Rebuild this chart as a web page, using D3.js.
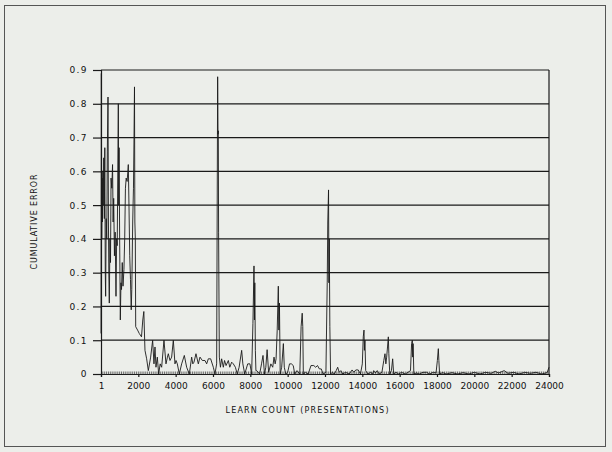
<!DOCTYPE html>
<html>
<head>
<meta charset="utf-8">
<script src="https://cdn.jsdelivr.net/npm/d3@7"></script>
<style>
  html, body { margin: 0; padding: 0; background: #eceeea; }
  svg { display: block; }
  text { font-family: "DejaVu Sans", sans-serif; fill: #111; }
</style>
</head>
<body>
<svg id="chart" width="612" height="452"></svg>
<script>
// ---- data ----
const learnCount = [
  1, 20, 40, 60, 80, 100, 120, 150, 180, 205, 230, 250, 280, 310, 340, 376, 400, 420, 446, 480,
  510, 540, 580, 620, 650, 680, 720, 760, 804, 840, 870, 900, 929, 950, 970, 1000, 1036, 1070, 1100, 1140,
  1180, 1230, 1270, 1310, 1350, 1400, 1440, 1464, 1500, 1540, 1580, 1620, 1650, 1700, 1740, 1770, 1795, 1815, 1840, 1860,
  1960, 2050, 2170, 2240, 2296, 2340, 2357, 2446, 2536, 2661, 2768, 2839, 2893, 2946, 3018, 3090, 3170, 3250, 3375, 3482,
  3560, 3607, 3696, 3786, 3875, 3964, 4020, 4089, 4196, 4321, 4464, 4589, 4732, 4857, 4920, 4982, 5089, 5214, 5304, 5429,
  5571, 5661, 5750, 5875, 6018, 6107, 6196, 6250, 6270, 6285, 6300, 6340, 6400, 6464, 6554, 6620, 6700, 6822, 6900, 7000,
  7089, 7200, 7300, 7400, 7536, 7600, 7700, 7860, 7980, 8070, 8140, 8197, 8220, 8240, 8270, 8300, 8340, 8500, 8600, 8680,
  8760, 8830, 8900, 8980, 9100, 9200, 9270, 9330, 9380, 9440, 9500, 9530, 9560, 9600, 9680, 9770, 9820, 9900, 10000, 10100,
  10200, 10300, 10380, 10500, 10650, 10720, 10780, 10810, 10840, 10950, 11100, 11250, 11400, 11500, 11600, 11700, 11800, 11900, 12050, 12120,
  12150, 12190, 12210, 12230, 12260, 12300, 12400, 12500, 12600, 12680, 12760, 12850, 12950, 13100, 13300, 13450, 13550, 13650, 13780, 13900,
  14000, 14050, 14089, 14110, 14140, 14180, 14300, 14450, 14550, 14610, 14700, 14800, 14900, 15050, 15150, 15214, 15260, 15304, 15350, 15393,
  15420, 15470, 15560, 15625, 15680, 15800, 15950, 16100, 16300, 16450, 16580, 16640, 16679, 16700, 16720, 16760, 16900, 17050, 17250, 17447,
  17600, 17800, 17950, 18020, 18072, 18100, 18140, 18300, 18500, 18800, 19100, 19400, 19700, 20000, 20300, 20600, 20900, 21120, 21300, 21600,
  21800, 22100, 22400, 22700, 23000, 23300, 23600, 23900, 24000
];
const cumulativeError = [
  0.12, 0.89, 0.40, 0.58, 0.45, 0.60, 0.50, 0.64, 0.46, 0.67, 0.30, 0.23, 0.46, 0.40, 0.66, 0.82, 0.45, 0.30, 0.21, 0.40,
  0.33, 0.58, 0.55, 0.62, 0.45, 0.52, 0.35, 0.42, 0.23, 0.40, 0.38, 0.60, 0.80, 0.50, 0.67, 0.40, 0.16, 0.27, 0.25, 0.33,
  0.26, 0.31, 0.40, 0.55, 0.58, 0.57, 0.60, 0.62, 0.50, 0.35, 0.28, 0.19, 0.25, 0.45, 0.55, 0.70, 0.85, 0.45, 0.40, 0.14,
  0.13, 0.12, 0.11, 0.16, 0.185, 0.10, 0.07, 0.045, 0.01, 0.05, 0.10, 0.03, 0.08, 0.02, 0.05, 0.0, 0.03, 0.02, 0.10, 0.03,
  0.05, 0.06, 0.04, 0.05, 0.10, 0.03, 0.04, 0.03, 0.0, 0.03, 0.055, 0.02, 0.0, 0.05, 0.03, 0.035, 0.06, 0.03, 0.05, 0.04,
  0.04, 0.03, 0.045, 0.045, 0.02, 0.0, 0.03, 0.88, 0.71, 0.72, 0.42, 0.05, 0.02, 0.045, 0.02, 0.04, 0.025, 0.04, 0.02, 0.035,
  0.03, 0.02, 0.0, 0.02, 0.07, 0.03, 0.0, 0.03, 0.03, 0.0, 0.15, 0.32, 0.16, 0.27, 0.07, 0.01, 0.01, 0.0, 0.03, 0.055,
  0.0, 0.02, 0.072, 0.005, 0.03, 0.02, 0.05, 0.03, 0.045, 0.13, 0.26, 0.13, 0.21, 0.0, 0.02, 0.09, 0.02, 0.0, 0.005, 0.03,
  0.03, 0.025, 0.0, 0.01, 0.0, 0.14, 0.18, 0.14, 0.0, 0.005, 0.0, 0.025, 0.025, 0.02, 0.025, 0.015, 0.015, 0.0, 0.005, 0.27,
  0.45, 0.545, 0.27, 0.40, 0.14, 0.0, 0.005, 0.0, 0.01, 0.02, 0.005, 0.01, 0.0, 0.005, 0.0, 0.012, 0.005, 0.012, 0.012, 0.0,
  0.03, 0.11, 0.13, 0.07, 0.10, 0.01, 0.0, 0.005, 0.0, 0.01, 0.003, 0.01, 0.0, 0.005, 0.04, 0.06, 0.03, 0.05, 0.08, 0.11,
  0.06, 0.0, 0.01, 0.045, 0.0, 0.005, 0.0, 0.005, 0.0, 0.005, 0.01, 0.09, 0.10, 0.05, 0.09, 0.0, 0.003, 0.0, 0.005, 0.005,
  0.0, 0.005, 0.003, 0.04, 0.075, 0.04, 0.0, 0.004, 0.0, 0.004, 0.0, 0.004, 0.0, 0.005, 0.0, 0.005, 0.002, 0.008, 0.003, 0.01,
  0.002, 0.005, 0.0, 0.005, 0.002, 0.005, 0.0, 0.004, 0.02
];
const xTickValues = [1, 2000, 4000, 6000, 8000, 10000, 12000, 14000, 16000, 18000, 20000, 22000, 24000];
const yTickValues = [0, 0.1, 0.2, 0.3, 0.4, 0.5, 0.6, 0.7, 0.8, 0.9];
const yTickLabels = ["0", "0.1", "0.2", "0.3", "0.4", "0.5", "0.6", "0.7", "0.8", "0.9"];
const xTitle = "LEARN COUNT (PRESENTATIONS)";
const yTitle = "CUMULATIVE ERROR";

// ---- layout ----
const svg = d3.select("#chart");
const plotLeft = 101, plotRight = 549, plotTop = 70, plotBottom = 374;

const x = d3.scaleLinear().domain([1, 24000]).range([plotLeft, plotRight]);
const y = d3.scaleLinear().domain([0, 0.9]).range([plotBottom, plotTop]);

// outer frame
svg.append("rect")
  .attr("x", 4.5).attr("y", 5.5).attr("width", 601).attr("height", 441)
  .attr("fill", "none").attr("stroke", "#555").attr("stroke-width", 1);

// horizontal gridlines
svg.append("g").selectAll("line").data(yTickValues.filter(d => d > 0)).join("line")
  .attr("x1", plotLeft).attr("x2", plotRight)
  .attr("y1", d => y(d)).attr("y2", d => y(d))
  .attr("stroke", "#1a1a1a").attr("stroke-width", 1.2);

// right frame line
svg.append("line")
  .attr("x1", plotRight).attr("x2", plotRight).attr("y1", y(0.9)).attr("y2", y(0))
  .attr("stroke", "#1a1a1a").attr("stroke-width", 1.2);

// y axis
const yAxis = d3.axisLeft(y).tickValues(yTickValues)
  .tickFormat((d, i) => yTickLabels[i]).tickSize(8).tickPadding(5);
const gy = svg.append("g").attr("transform", `translate(${plotLeft},0)`).call(yAxis);
gy.select(".domain").attr("stroke", "#1a1a1a").attr("stroke-width", 1.2);
gy.selectAll(".tick line").attr("stroke", "#1a1a1a").attr("stroke-width", 1.2);
gy.selectAll(".tick text").attr("font-size", 9).attr("letter-spacing", 1.4)
  .attr("font-family", "DejaVu Sans").attr("fill", "#111");

// x minor ticks (upward)
const minor = d3.range(100, 24000, 100);
svg.append("g").selectAll("line").data(minor).join("line")
  .attr("x1", d => x(d)).attr("x2", d => x(d))
  .attr("y1", plotBottom).attr("y2", plotBottom - 2.5)
  .attr("stroke", "#333").attr("stroke-width", 0.7);

// x axis
const xAxis = d3.axisBottom(x).tickValues(xTickValues)
  .tickFormat(d3.format("d")).tickSize(3).tickPadding(6);
const gx = svg.append("g").attr("transform", `translate(0,${plotBottom})`).call(xAxis);
gx.select(".domain").attr("stroke", "#1a1a1a").attr("stroke-width", 1.2);
gx.selectAll(".tick line").attr("stroke", "#1a1a1a").attr("stroke-width", 1.2);
gx.selectAll(".tick text").attr("font-size", 9)
  .attr("font-family", "DejaVu Sans").attr("fill", "#111");

// data line
const pts = learnCount.map((d, i) => [d, cumulativeError[i]]);
svg.append("path")
  .datum(pts)
  .attr("fill", "none")
  .attr("stroke", "#1a1a1a")
  .attr("stroke-width", 0.9)
  .attr("stroke-linejoin", "miter")
  .attr("d", d3.line().x(d => x(d[0])).y(d => y(d[1])));

// titles
svg.append("text")
  .attr("x", 307).attr("y", 413)
  .attr("text-anchor", "middle")
  .attr("font-size", 8)
  .attr("textLength", 163).attr("lengthAdjust", "spacing")
  .text(xTitle);

svg.append("text")
  .attr("transform", "translate(37,222) rotate(-90)")
  .attr("text-anchor", "middle")
  .attr("font-size", 8)
  .attr("textLength", 95).attr("lengthAdjust", "spacing")
  .text(yTitle);
</script>
</body>
</html>
